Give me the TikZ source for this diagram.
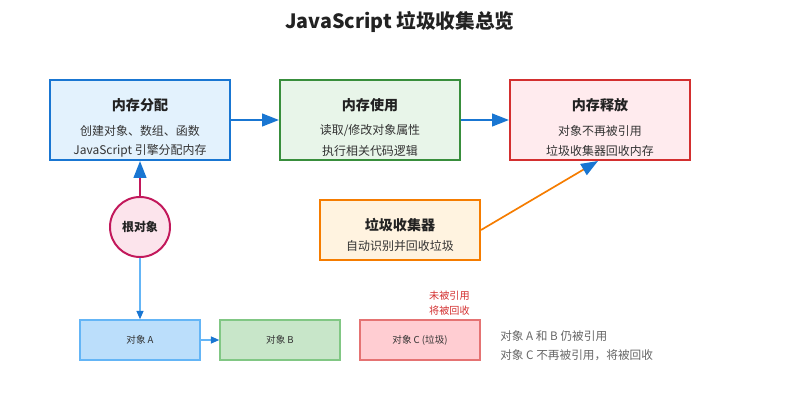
\documentclass[tikz,border=0pt]{standalone}
\usepackage{fontspec}
\setmainfont{Noto Sans CJK SC}
\usetikzlibrary{arrows.meta,calc}

\definecolor{allocline}{HTML}{1976D2}
\definecolor{allocfill}{HTML}{E3F2FD}
\definecolor{useline}{HTML}{388E3C}
\definecolor{usefill}{HTML}{E8F5E9}
\definecolor{freeline}{HTML}{D32F2F}
\definecolor{freefill}{HTML}{FFEBEE}
\definecolor{gcline}{HTML}{F57C00}
\definecolor{gcfill}{HTML}{FFF3E0}
\definecolor{rootline}{HTML}{C2185B}
\definecolor{rootfill}{HTML}{FCE4EC}
\definecolor{objaline}{HTML}{64B5F6}
\definecolor{objafill}{HTML}{BBDEFB}
\definecolor{objbline}{HTML}{81C784}
\definecolor{objbfill}{HTML}{C8E6C9}
\definecolor{objcline}{HTML}{E57373}
\definecolor{objcfill}{HTML}{FFCDD2}
\definecolor{textdark}{HTML}{222222}
\definecolor{textbody}{HTML}{333333}
\definecolor{textnote}{HTML}{666666}

\begin{document}
\begin{tikzpicture}[x=0.025cm,y=-0.025cm
  ,big/.style={-{Triangle[length=12pt,width=9pt,color=allocline]}}
  ,small/.style={-{Triangle[length=6pt,width=5pt,color=allocline]}}
  ,stage/.style={draw,line width=1.4pt,minimum width=4.5cm,minimum height=2cm,inner sep=0pt}
  ,object/.style={draw,line width=1pt,minimum width=3cm,minimum height=1cm,inner sep=0pt,
    font=\fontsize{6.8}{8}\selectfont,text=textbody}
  ,head/.style={font=\bfseries\fontsize{10}{12}\selectfont,text=textdark}
  ,body/.style={font=\fontsize{8.5}{10}\selectfont,text=textbody}
  ,note/.style={font=\fontsize{8.3}{10}\selectfont,text=textnote,anchor=west,inner sep=0pt}
  ,warn/.style={font=\fontsize{7.2}{8}\selectfont,text=freeline,anchor=east,inner sep=0pt}]
  \useasboundingbox (0,0) rectangle (800,400);

  \node[font=\bfseries\fontsize{14}{16}\selectfont,text=textdark] (title) at (400,22)
    {JavaScript 垃圾收集总览};

  % memory life cycle
  \node[stage,draw=allocline,fill=allocfill] (alloc) at (140,120) {};
  \node[head] (alloc-h) at (140,105) {内存分配};
  \node[body] (alloc-1) at (140,131) {创建对象、数组、函数};
  \node[body] (alloc-2) at (140,151) {JavaScript 引擎分配内存};

  \node[stage,draw=useline,fill=usefill] (use) at (370,120) {};
  \node[head] (use-h) at (370,105) {内存使用};
  \node[body] (use-1) at (370,131) {读取/修改对象属性};
  \node[body] (use-2) at (370,151) {执行相关代码逻辑};

  \node[stage,draw=freeline,fill=freefill] (free) at (600,120) {};
  \node[head] (free-h) at (600,105) {内存释放};
  \node[body] (free-1) at (600,131) {对象不再被引用};
  \node[body] (free-2) at (600,151) {垃圾收集器回收内存};

  % root and collector
  \node[circle,draw=rootline,fill=rootfill,line width=1.4pt,minimum size=1.5cm,inner sep=0pt,
    font=\bfseries\fontsize{8.5}{10}\selectfont,text=textdark] (root) at (140,227) {根对象};

  \node[stage,draw=gcline,fill=gcfill,minimum width=4cm,minimum height=1.5cm] (gc) at (400,230) {};
  \node[head] (gc-h) at (400,225) {垃圾收集器};
  \node[body] (gc-1) at (400,246) {自动识别并回收垃圾};
  \coordinate (gc-tip) at (598,161);

  % objects
  \node[object,draw=objaline,fill=objafill] (obja) at (140,340) {对象 A};
  \node[object,draw=objbline,fill=objbfill] (objb) at (280,340) {对象 B};
  \node[object,draw=objcline,fill=objcfill] (objc) at (420,340) {对象 C (垃圾)};

  \node[warn] (objc-w1) at (470,296) {未被引用};
  \node[warn] (objc-w2) at (470,311) {将被回收};

  \node[note] (note-1) at (500,336) {对象 A 和 B 仍被引用};
  \node[note] (note-2) at (500,355) {对象 C 不再被引用，将被回收};

  \draw[big,allocline,line width=1.4pt] (alloc) -- (use);
  \draw[big,allocline,line width=1.4pt] (use) -- (free);
  \draw[big,rootline,line width=1.4pt] (root) -- (alloc);
  \draw[big,gcline,line width=1.2pt] (gc.east) -- (gc-tip);
  \draw[small,objaline,line width=1pt] (root) -- (obja);
  \draw[small,objaline,line width=1pt] (obja) -- (objb);

\end{tikzpicture}
\end{document}
